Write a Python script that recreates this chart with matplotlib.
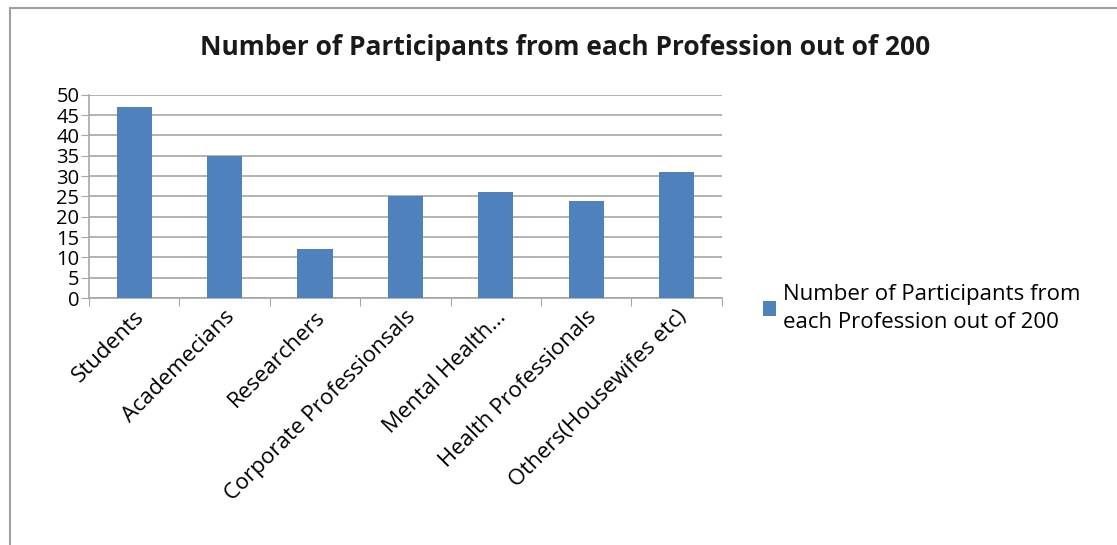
import matplotlib
matplotlib.use('Agg')
import matplotlib.pyplot as plt
from matplotlib.patches import Rectangle
import numpy as np

plt.rcParams['font.family'] = ['Open Sans', 'DejaVu Sans']

# data
professions = ["Students", "Academecians", "Researchers", "Corporate Professionsals",
               "Mental Health...", "Health Professionals", "Others(Housewifes etc)"]
participants = [47, 35, 12, 25, 26, 24, 31]
y_ticks = [0, 5, 10, 15, 20, 25, 30, 35, 40, 45, 50]
series_name = "Number of Participants from\neach Profession out of 200"

fig = plt.figure(figsize=(11.17, 5.45), dpi=100)
ax = fig.add_axes([0.0797, 0.453, 0.5665, 0.373])

x = np.arange(len(professions))
ax.bar(x, participants, width=0.39, color='#4F81BD', label=series_name, zorder=3)

ax.set_xlim(-0.5, len(professions) - 0.5)
ax.set_ylim(0, 50)
ax.set_yticks(y_ticks)
ax.yaxis.grid(True, color='#a6a6a6', linewidth=1.2, zorder=0)
ax.tick_params(axis='y', length=6, color='#a6a6a6', labelsize=14.5, pad=1)

# category boundary ticks on x axis
ax.set_xticks(np.arange(-0.5, len(professions), 1.0))
ax.set_xticklabels([])
ax.set_xticks(x, minor=True)
ax.set_xticklabels(professions, minor=True, rotation=45, ha='right',
                   rotation_mode='anchor', fontsize=16)
ax.tick_params(axis='x', which='major', length=6, color='#a6a6a6')
ax.tick_params(axis='x', which='minor', length=0, pad=6)

for s in ['top', 'right']:
    ax.spines[s].set_visible(False)
for s in ['left', 'bottom']:
    ax.spines[s].set_color('#a6a6a6')
    ax.spines[s].set_linewidth(1.2)

fig.text(0.506, 0.913, "Number of Participants from each Profession out of 200",
         ha='center', va='center', fontsize=19, fontweight='bold', color='#1a1a1a')

leg = ax.legend(loc='center left', bbox_to_anchor=(1.033, -0.05), frameon=False,
                handlelength=0.6, handleheight=0.6, handletextpad=0.3,
                prop={'size': 16})
for t in leg.get_texts():
    t.set_linespacing(1.45)

# outer chart frame
fig.add_artist(Rectangle((10 / 1117, -0.1), 1.2, 1 - 8 / 545 + 0.1,
                         transform=fig.transFigure, fill=False,
                         edgecolor='#a0a0a0', linewidth=1.5))

fig.savefig('out.png', dpi=100)
